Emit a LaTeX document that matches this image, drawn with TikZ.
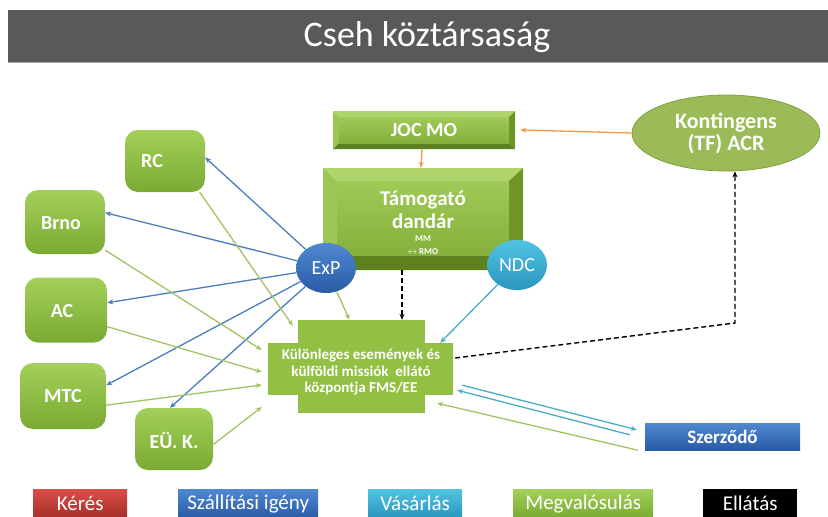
\documentclass[tikz,border=0pt]{standalone}
\usepackage{fontspec}
\setmainfont{Carlito}
\usetikzlibrary{arrows.meta,shapes.geometric,calc}
\definecolor{titlegray}{HTML}{595959}
\definecolor{gTop}{HTML}{A3D05A}
\definecolor{gBot}{HTML}{7AAA33}
\definecolor{gFlat}{HTML}{92C044}
\definecolor{ellG}{HTML}{9BBB59}
\definecolor{ellD}{HTML}{80A040}
\definecolor{bTop}{HTML}{4F88D2}
\definecolor{bBot}{HTML}{2A5BA5}
\definecolor{tTop}{HTML}{52C2E2}
\definecolor{tBot}{HTML}{2996BE}
\definecolor{rTop}{HTML}{DA4E48}
\definecolor{rBot}{HTML}{A52E29}
\definecolor{lineB}{HTML}{4A7CC0}
\definecolor{lineG}{HTML}{A2C363}
\definecolor{lineT}{HTML}{4BACC6}
\definecolor{lineO}{HTML}{F79646}
\definecolor{bevT}{HTML}{AFD56A}
\definecolor{bevL}{HTML}{9CC655}
\definecolor{bevR}{HTML}{6E942A}
\definecolor{bevB}{HTML}{5D8120}
\definecolor{faceT}{HTML}{9FCA58}
\definecolor{faceB}{HTML}{85B03B}
\tikzset{
  rbox/.style={rectangle, rounded corners=13pt, top color=gTop, bottom color=gBot,
    draw=none, text=white, font=\fontsize{20}{22}\selectfont\bfseries, inner sep=0pt},
  boxtxt/.style={text=white, font=\fontsize{20}{22}\selectfont\bfseries, inner sep=0pt},
  bevnode/.style={rectangle, draw=none, text=white, inner sep=0pt, align=center},
  fmsbox/.style={rectangle, fill=gFlat, draw=none, inner sep=0pt},
  circ/.style={ellipse, minimum width=60pt, minimum height=50pt, inner sep=0pt,
    text=white, font=\fontsize{20}{22}\selectfont},
  legbox/.style={rectangle, minimum height=29pt, inner sep=0pt, text=white,
    font=\fontsize{21}{23}\selectfont, anchor=north west},
  bl/.style={draw=lineB, line width=1.3pt, -{Stealth[length=6pt,width=5pt]}},
  gr/.style={draw=lineG, line width=1.3pt, -{Stealth[length=6pt,width=5pt]}},
  tl/.style={draw=lineT, line width=1.3pt, -{Stealth[length=6pt,width=5pt]}},
  ol/.style={draw=lineO, line width=1.3pt, -{Stealth[length=6pt,width=5pt]}},
  dsh/.style={draw=black, line width=1.4pt, dash pattern=on 5pt off 3pt, -{Stealth[length=6pt,width=5pt]}},
}
\begin{document}
\begin{tikzpicture}[x=1pt,y=-1pt]
\useasboundingbox (0,0) rectangle (828,517);
% title
\fill[titlegray] (8,10) rectangle (828,62);
\draw[gray!70, line width=1pt] (8,62.5) -- (828,62.5);
\node[text=white, font=\fontsize{36}{40}\selectfont] (title) at (427,37) {Cseh köztársaság};

% JOC MO bevel
\fill[bevT] (333,111) -- (515,111) -- (509,117) -- (339,117) -- cycle;
\fill[bevL] (333,111) -- (339,117) -- (339,143) -- (333,149) -- cycle;
\fill[bevR] (515,111) -- (515,149) -- (509,143) -- (509,117) -- cycle;
\fill[bevB] (333,149) -- (515,149) -- (509,143) -- (339,143) -- cycle;
\shade[top color=faceT, bottom color=faceB] (339,117) rectangle (509,143);
\node[bevnode, minimum width=182pt, minimum height=38pt, font=\fontsize{20}{22}\selectfont\bfseries] (JOC) at (424,130) {JOC MO};

% Tamogato bevel
\fill[bevT] (323,168) -- (523,168) -- (509,181) -- (337,181) -- cycle;
\fill[bevL] (323,168) -- (337,181) -- (337,255) -- (323,270) -- cycle;
\fill[bevR] (523,168) -- (523,270) -- (509,255) -- (509,181) -- cycle;
\fill[bevB] (323,270) -- (523,270) -- (509,255) -- (337,255) -- cycle;
\shade[top color=faceT, bottom color=faceB] (337,181) rectangle (509,255);
\node[bevnode, minimum width=200pt, minimum height=102pt] (TD) at (423,219) {};
\node[bevnode, font=\fontsize{21}{23}\selectfont\bfseries] (TDtxt) at (423,210) {Támogató\\dandár};
\node[bevnode, font=\fontsize{9}{12.5}\selectfont\bfseries] (TDsub) at (423,245) {MM\\$\leftrightarrow$ RMO};

% Kontingens
\node[ellipse, fill=ellG, draw=ellD, line width=0.8pt, minimum width=188pt, minimum height=76pt,
  inner sep=0pt, text=white, align=center, font=\fontsize{22}{22}\selectfont\bfseries] (Kont) at (726,133)
  {Kontingens\\(TF) ACR};
\coordinate (ktxt) at (726,135);

% FMS cross
\node[fmsbox, minimum width=127pt, minimum height=93pt] (FMSv) at (361.5,366.5) {};
\node[fmsbox, minimum width=185pt, minimum height=52pt] (FMS) at (360.5,369) {};
\node[text=white, align=center, inner sep=0pt,
  font=\fontsize{15}{16.5}\selectfont\bfseries] (FMSt) at (361,372)
  {Különleges események és\\külföldi missiók\ \ ellátó\\központja FMS/EE};

% rounded boxes
\node[rbox, minimum width=80pt, minimum height=62pt] (RC) at (165,161) {};
\node[boxtxt] (RCt) at (152,161) {RC};
\node[rbox, minimum width=80pt, minimum height=64pt] (Brno) at (65,222) {};
\node[boxtxt] (Brnot) at (61,223) {Brno};
\node[rbox, minimum width=82pt, minimum height=65pt] (AC) at (66,310) {};
\node[boxtxt] (ACt) at (62,311) {AC};
\node[rbox, minimum width=86pt, minimum height=66pt] (MTC) at (63,396) {};
\node[boxtxt] (MTCt) at (63,396) {MTC};
\node[rbox, minimum width=78pt, minimum height=62pt] (EUK) at (174,439) {};
\node[boxtxt] (EUKt) at (174,440) {EÜ. K.};

% circles
\node[circ, top color=bTop, bottom color=bBot] (ExP) at (326,268) {ExP};
\node[circ, top color=tTop, bottom color=tBot] (NDC) at (517,265) {NDC};

% Szerzodo
\node[rectangle, top color=bTop, bottom color=bBot, minimum width=155pt, minimum height=27pt,
  inner sep=0pt, text=white, font=\fontsize{19}{21}\selectfont\bfseries] (Sz) at (722.5,436.5) {Szerződő};

% legend
\node[legbox, top color=rTop, bottom color=rBot, minimum width=94pt] (L1) at (33,489) {Kérés};
\node[legbox, top color=bTop, bottom color=bBot, minimum width=140pt] (L2) at (178,489) {Szállítási igény};
\node[legbox, top color=tTop, bottom color=tBot, minimum width=94pt] (L3) at (368,489) {Vásárlás};
\node[legbox, top color=gTop, bottom color=gBot, minimum width=140pt] (L4) at (513,489) {Megvalósulás};
\node[legbox, fill=black, minimum width=94pt] (L5) at (703,489) {Ellátás};

% orange
\draw[ol] (Kont.west) -- ([xshift=5pt]JOC.east);
\draw[ol] ([xshift=-2pt]JOC.south) -- ([xshift=-2pt]TD.north);

% blue from ExP
\draw[bl] (ExP) -- (RC.5);
\draw[bl] (ExP) -- (Brno.13);
\draw[bl] (ExP) -- (AC.10);
\draw[bl] (ExP) -- (MTC.14);
\draw[bl] (ExP) -- ([xshift=-4pt]EUK.north);

% green to FMS
\draw[gr] (RC.-42) -- ([shift={(-5,6)}]FMSv.north west);
\draw[gr] (Brno.-35) -- ([shift={(-6,-19)}]FMS.west);
\draw[gr] (AC.-22) -- ([shift={(-6,3)}]FMS.west);
\draw[gr] (MTC.-12) -- ([shift={(-6,16)}]FMS.west);
\draw[gr] (EUK.-8) -- ([shift={(-6,38)}]FMS.west);
\draw[gr] (ExP) -- ([xshift=-12pt]FMSv.north);

% NDC
\draw[tl] (NDC) -- ([xshift=-13pt]FMS.north east);

% black dashed
\draw[dsh] ([xshift=-21pt]TD.south) -- ([xshift=-21pt]TD.south |- FMSv.north);
\coordinate (bend) at (735,323);
\draw[dsh] ([shift={(2,-11)}]FMS.east) -- (bend) -- (bend |- Kont.south);

% Szerzodo links
\draw[tl] ([shift={(9,-10)}]FMS.south east) -- ([shift={(-8,7)}]Sz.north west);
\draw[tl] ([shift={(-15,12)}]Sz.north west) -- ([shift={(4,-5)}]FMS.south east);
\draw[gr] ([xshift=-7pt]Sz.south west) -- ([shift={(-16,8)}]FMS.south east);
\end{tikzpicture}
\end{document}
